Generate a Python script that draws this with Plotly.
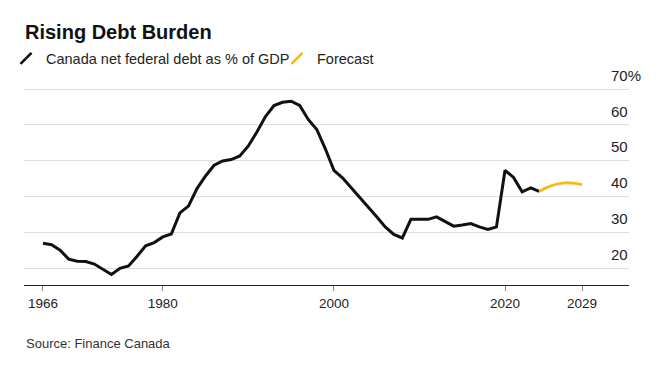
import plotly.graph_objects as go

# ---- data ----
years_actual = list(range(1966, 2025))
debt_actual = [26.9, 26.5, 25.0, 22.5, 21.9, 21.8, 21.1, 19.7, 18.2, 19.9,
               20.6, 23.3, 26.2, 27.1, 28.7, 29.5, 35.4, 37.3, 42.2, 45.7,
               48.7, 49.9, 50.3, 51.3, 54.1, 58.0, 62.3, 65.4, 66.3, 66.6,
               65.4, 61.5, 58.7, 53.3, 47.3, 45.2, 42.5, 39.7, 37.3, 34.3,
               31.5, 29.4, 28.4, 33.6, 33.6, 33.6, 34.3, 33.0, 31.7, 32.0,
               32.4, 31.5, 30.8, 31.5, 47.3, 45.3, 41.3, 42.4, 41.4]
years_forecast = [2024, 2025, 2026, 2027, 2028, 2029]
debt_forecast = [41.4, 42.6, 43.4, 43.8, 43.7, 43.3]

x_tick_vals = [1966, 1980, 2000, 2020, 2029]
x_tick_text = ["1966", "1980", "2000", "2020", "2029"]
y_tick_vals = [20, 30, 40, 50, 60, 70]
y_tick_text = ["20", "30", "40", "50", "60", "70%"]

series_names = ["Canada net federal debt as % of GDP", "Forecast"]
BLACK = "#111111"
YELLOW = "#F5BB14"
FONT = "Liberation Sans, Arial, sans-serif"

W, H = 666, 373
ML, MR, MT, MB = 24, 37, 86, 88
plot_w = W - ML - MR
plot_h = H - MT - MB

fig = go.Figure()
fig.add_trace(go.Scatter(x=years_actual, y=debt_actual, mode="lines",
                         line=dict(color=BLACK, width=3), showlegend=False,
                         hoverinfo="skip"))
fig.add_trace(go.Scatter(x=years_forecast, y=debt_forecast, mode="lines",
                         line=dict(color=YELLOW, width=2.8, shape="spline", smoothing=0.8),
                         showlegend=False, hoverinfo="skip"))
# legend entries (slash icons)
fig.add_trace(go.Scatter(x=[None], y=[None], mode="markers", name=series_names[0],
                         marker=dict(symbol="line-ne", size=11, line=dict(width=2.6, color=BLACK)),
                         legend="legend"))
fig.add_trace(go.Scatter(x=[None], y=[None], mode="markers", name=series_names[1],
                         marker=dict(symbol="line-ne", size=11, line=dict(width=2.6, color=YELLOW)),
                         legend="legend2"))
# helper trace so the label axis renders
fig.add_trace(go.Scatter(x=[None], y=[None], yaxis="y2", showlegend=False, hoverinfo="skip"))

yrange = [15.26, 70.84]

def px_x(px):
    return (px - ML) / plot_w

def px_y(py):
    return (H - MB - py) / plot_h

leg_common = dict(orientation="h", yanchor="middle", y=px_y(58.5), xanchor="left",
                  bgcolor="rgba(0,0,0,0)", font=dict(family=FONT, size=14.5, color="#222222"),
                  borderwidth=0)

fig.update_layout(
    width=W, height=H,
    margin=dict(l=ML, r=MR, t=MT, b=MB, autoexpand=False),
    paper_bgcolor="white", plot_bgcolor="white",
    font=dict(family=FONT, color="#222222"),
    title=dict(text="<b>Rising Debt Burden</b>", x=25 / W, xanchor="left",
               y=1 - 32 / H, yanchor="middle",
               font=dict(family=FONT, size=20, color="#111111")),
    legend=dict(x=px_x(6), **leg_common),
    legend2=dict(x=px_x(277), **leg_common),
    xaxis=dict(range=[1963.78, 2034.49], tickvals=x_tick_vals, ticktext=x_tick_text,
               ticks="outside", ticklen=5, tickcolor="#888888", tickwidth=1,
               showline=True, linecolor="#222222", linewidth=1.3,
               showgrid=False, zeroline=False, ticklabelstandoff=1,
               tickfont=dict(family=FONT, size=13.5, color="#222222")),
    yaxis=dict(range=yrange, tickvals=y_tick_vals, showticklabels=False,
               showgrid=True, gridcolor="#dddddd", gridwidth=1.2,
               zeroline=False, ticks="", showline=False),
    yaxis2=dict(range=yrange, tickvals=y_tick_vals, ticktext=y_tick_text,
                overlaying="y", anchor="free", position=px_x(610), side="right",
                ticklabelposition="outside top", ticklabelshift=-3, ticks="", showgrid=False,
                zeroline=False, showline=False,
                tickfont=dict(family=FONT, size=15, color="#222222")),
    annotations=[dict(text="Source: Finance Canada", xref="paper", yref="paper",
                      x=px_x(24), y=px_y(343.5), xanchor="left", yanchor="middle",
                      showarrow=False, font=dict(family=FONT, size=13, color="#333333"))],
)

fig.write_html("out.html", config={"displayModeBar": False},
               post_script="document.body.style.margin='0';document.body.style.padding='0';")
